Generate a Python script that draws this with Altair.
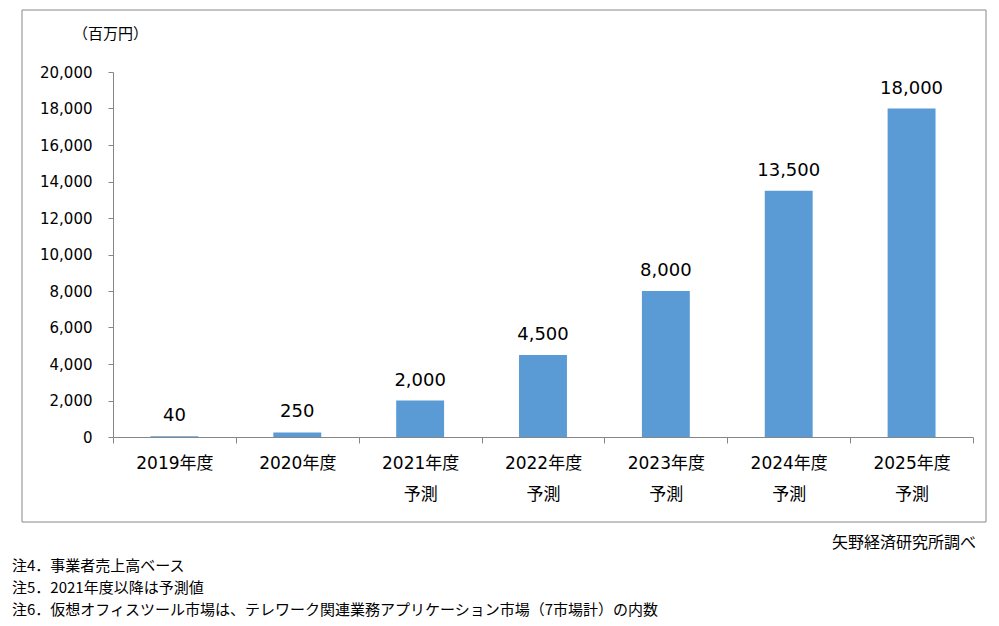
import altair as alt
import pandas as pd

categories = ["2019年度", "2020年度", "2021年度\n予測", "2022年度\n予測",
              "2023年度\n予測", "2024年度\n予測", "2025年度\n予測"]
values = [40, 250, 2000, 4500, 8000, 13500, 18000]
y_ticks = [0, 2000, 4000, 6000, 8000, 10000, 12000, 14000, 16000, 18000, 20000]
unit = "（百万円）"
source = "矢野経済研究所調べ"
notes = ["注4．事業者売上高ベース",
         "注5．2021年度以降は予測値",
         "注6．仮想オフィスツール市場は、テレワーク関連業務アプリケーション市場（7市場計）の内数"]

df = pd.DataFrame({"cat": categories, "value": values})

FONT = "DejaVu Sans, Noto Sans CJK JP"
CJK = "Noto Sans CJK JP"
AX = "#868686"
W, H = 860, 365

x = alt.X("cat:N", sort=categories,
          scale=alt.Scale(paddingInner=0, paddingOuter=0),
          axis=alt.Axis(title=None, labelAngle=0,
                        labelExpr="split(datum.label, '\\n')",
                        tickBand="extent", tickSize=6, tickColor=AX,
                        domainColor=AX, labelPadding=12, labelFontSize=17,
                        labelLineHeight=31, labelFont=FONT, labelColor="#000000"))
y = alt.Y("value:Q", scale=alt.Scale(domain=[0, 20000]),
          axis=alt.Axis(values=y_ticks, labelExpr="format(datum.value, ',')",
                        labelOverlap=False, grid=False, tickSize=5,
                        tickColor=AX, domainColor=AX, labelPadding=16,
                        labelFontSize=15, labelFont=FONT, labelColor="#000000",
                        title=unit, titleAngle=0, titleX=-3, titleY=-39,
                        titleAlign="center", titleBaseline="middle",
                        titleFont=CJK, titleFontSize=15, titleFontWeight="normal",
                        titleColor="#000000"))

base = alt.Chart(df)
bars = base.mark_bar(color="#5B9BD5", width=alt.RelativeBandSize(0.39)).encode(x=x, y=y)
labels = base.mark_text(fontSize=18, font=FONT, baseline="alphabetic", dy=-15,
                        color="#000000").encode(
    x=x, y=y, text=alt.Text("value:Q", format=","))

frame = alt.Chart(pd.DataFrame({"k": [0]})).mark_rect(
    fill="transparent", stroke="#888888", strokeWidth=1).encode(
    x=alt.value(-91), x2=alt.value(873), y=alt.value(-62), y2=alt.value(450))

src = alt.Chart(pd.DataFrame({"k": [0]})).mark_text(
    font=CJK, fontSize=16, align="right", baseline="middle", color="#000000").encode(
    x=alt.value(863), y=alt.value(471), text=alt.value(source))

note = alt.Chart(pd.DataFrame({"k": [0]})).mark_text(
    font=CJK, fontSize=15, align="left", baseline="top", lineHeight=22,
    color="#000000").encode(
    x=alt.value(-101), y=alt.value(487), text=alt.value(notes))

chart = alt.layer(frame, bars, labels, src, note).properties(
    width=W, height=H,
    autosize=alt.AutoSizeParams(type="none"),
    padding={"left": 113, "top": 72, "right": 26, "bottom": 189},
    background="#ffffff",
).configure_view(strokeWidth=0)

chart.save("out.html", embed_options={"renderer": "svg", "actions": False})
